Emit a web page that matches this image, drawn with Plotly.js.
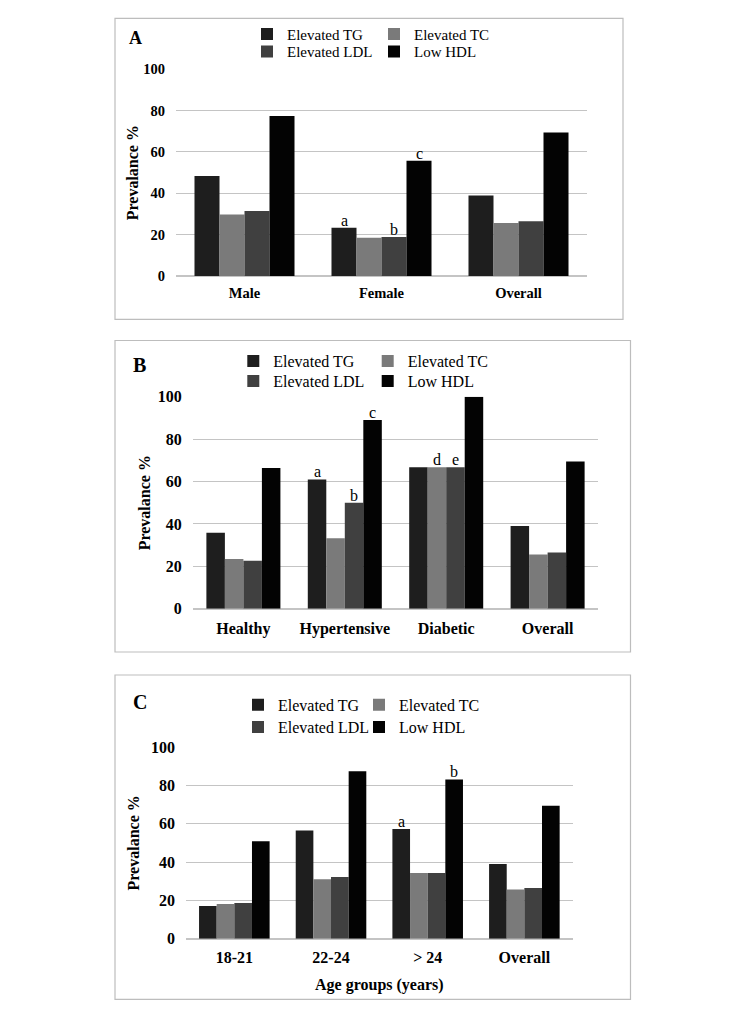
<!DOCTYPE html>
<html>
<head>
<meta charset="utf-8">
<script src="https://cdn.plot.ly/plotly-3.0.1.min.js"></script>
<style>html,body{margin:0;padding:0;background:#fff;}#chart{width:744px;height:1015px;}</style>
</head>
<body>
<div id="chart"></div>
<script>
// ---- data ----
const seriesNames = ['Elevated TG', 'Elevated TC', 'Elevated LDL', 'Low HDL'];
const seriesColors = ['#1e1e1e', '#7a7a7a', '#404040', '#030303'];

// Panel A: by sex
const catsA = ['Male', 'Female', 'Overall'];
const tgA  = [48.4, 23.4, 39.0];
const tcA  = [29.8, 18.5, 25.6];
const ldlA = [31.5, 18.9, 26.5];
const hdlA = [77.4, 55.8, 69.4];
const letterCatA = ['Female', 'Female', 'Female'];
const letterSerA = [0, 2, 3];
const letterTxtA = ['a', 'b', 'c'];

// Panel B: by health status
const catsB = ['Healthy', 'Hypertensive', 'Diabetic', 'Overall'];
const tgB  = [35.8, 61.0, 66.7, 39.0];
const tcB  = [23.4, 33.2, 66.7, 25.6];
const ldlB = [22.6, 50.0, 66.7, 26.5];
const hdlB = [66.4, 89.0, 100, 69.4];
const letterCatB = ['Hypertensive', 'Hypertensive', 'Hypertensive', 'Diabetic', 'Diabetic'];
const letterSerB = [0, 2, 3, 1, 2];
const letterTxtB = ['a', 'b', 'c', 'd', 'e'];

// Panel C: by age group
const catsC = ['18-21', '22-24', '> 24', 'Overall'];
const tgC  = [17.0, 56.5, 57.2, 39.0];
const tcC  = [18.1, 31.0, 34.3, 25.6];
const ldlC = [18.6, 32.2, 34.3, 26.5];
const hdlC = [50.8, 87.3, 83.1, 69.4];
const letterCatC = ['> 24', '> 24'];
const letterSerC = [0, 3];
const letterTxtC = ['a', 'b'];

const yTickVals = [0, 20, 40, 60, 80, 100];
const yTitle = 'Prevalance %';
const xTitleC = 'Age groups (years)';
const panelLabels = ['A', 'B', 'C'];

// ---- layout helpers ----
const W = 744, H = 1015;
const px = v => v / W;
const py = v => 1 - v / H;
const SERIF = 'Liberation Serif, Times New Roman, serif';
const BARGAP = 0.27;

// legend item placement: text start x per column, center y per row
const panels = [
  {cats: catsA, vals: [tgA, tcA, ldlA, hdlA], lc: letterCatA, ls: letterSerA, lt: letterTxtA,
   xd: [176, 587], yd: [276, 69.3], box: [115, 18.3, 623, 319.3], fs: 14.5, lfs: 15,
   cols: [287, 414], rows: [33.3, 50.7], ytStand: 0, xtStand: 6, lab: {x: 135.5, y: 37.5, s: 18}},
  {cats: catsB, vals: [tgB, tcB, ldlB, hdlB], lc: letterCatB, ls: letterSerB, lt: letterTxtB,
   xd: [192.7, 598.3], yd: [608.7, 396.7], box: [115, 340.5, 630.5, 652], fs: 16, lfs: 16,
   cols: [273.3, 407.7], rows: [360.7, 380.7], ytStand: 3, xtStand: 8, lab: {x: 139, y: 365, s: 20}},
  {cats: catsC, vals: [tgC, tcC, ldlC, hdlC], lc: letterCatC, ls: letterSerC, lt: letterTxtC,
   xd: [186, 572.7], yd: [938.7, 747], box: [115, 675, 630.5, 999.3], fs: 16, lfs: 16,
   cols: [278, 399], rows: [704.3, 726.7], ytStand: 7, xtStand: 7, lab: {x: 140, y: 702, s: 20}}
];

const traces = [];
const annotations = [];
const shapes = [];
const layout = {
  width: W, height: H,
  margin: {l: 0, r: 0, t: 0, b: 0, autoexpand: false},
  paper_bgcolor: '#ffffff', plot_bgcolor: 'rgba(0,0,0,0)',
  barmode: 'group', bargap: BARGAP, bargroupgap: 0,
  showlegend: true,
  font: {family: SERIF, color: '#000'}
};

const legendKey = n => (n === 1 ? 'legend' : 'legend' + n);

panels.forEach((p, i) => {
  const sfx = i === 0 ? '' : String(i + 1);
  const xa = 'x' + sfx, ya = 'y' + sfx;
  p.vals.forEach((v, s) => {
    const key = legendKey(i * 4 + s + 1);
    const col = s % 2, row = s < 2 ? 0 : 1;
    traces.push({
      type: 'bar', x: p.cats, y: v, name: seriesNames[s],
      marker: {color: seriesColors[s], line: {width: 0}},
      xaxis: xa, yaxis: ya, legend: key, hoverinfo: 'x+y+name'
    });
    layout[key] = {
      orientation: 'h', x: px(p.cols[col] - 40), y: py(p.rows[row] - p.lfs - 0.5),
      xanchor: 'left', yanchor: 'top', xref: 'paper', yref: 'paper',
      bgcolor: 'rgba(0,0,0,0)', borderwidth: 0, itemwidth: 30,
      font: {family: SERIF, size: p.lfs, color: '#000'}, itemclick: false, itemdoubleclick: false
    };
  });
  layout['xaxis' + sfx] = {
    domain: [px(p.xd[0]), px(p.xd[1])], anchor: ya, type: 'category',
    showgrid: false, zeroline: false, showline: false, ticks: '',
    tickfont: {family: SERIF, size: p.fs, weight: 'bold', color: '#000'},
    ticklabelstandoff: p.xtStand, fixedrange: true,
    title: i === 2 ? {text: xTitleC, font: {family: SERIF, size: 16, weight: 'bold', color: '#000'}, standoff: 14} : {text: ''}
  };
  layout['yaxis' + sfx] = {
    domain: [py(p.yd[0]), py(p.yd[1])], anchor: xa, range: [0, 100],
    tickvals: yTickVals, showgrid: true, gridcolor: '#c4c4c4', gridwidth: 1,
    zeroline: true, zerolinecolor: '#c4c4c4', zerolinewidth: 1.5,
    showline: false, ticks: '', ticklabelstandoff: 10,
    tickfont: {family: SERIF, size: p.fs, weight: 'bold', color: '#000'},
    fixedrange: true,
    title: {text: yTitle, font: {family: SERIF, size: 16, weight: 'bold', color: '#000'}, standoff: p.ytStand}
  };
  // significance letters above bars
  const w = (1 - BARGAP) / 4;
  p.lt.forEach((t, k) => {
    const ci = p.cats.indexOf(p.lc[k]);
    const s = p.ls[k];
    annotations.push({
      xref: xa, yref: ya, x: ci + (s - 1.5) * w, y: p.vals[s][ci],
      text: t, showarrow: false, yanchor: 'bottom', xanchor: 'center', yshift: -3,
      font: {family: SERIF, size: 16, color: '#000'}
    });
  });
  // panel label
  annotations.push({
    xref: 'paper', yref: 'paper', x: px(p.lab.x), y: py(p.lab.y),
    text: '<b>' + panelLabels[i] + '</b>', showarrow: false, xanchor: 'center', yanchor: 'middle',
    font: {family: SERIF, size: p.lab.s, color: '#000'}
  });
  // panel frame
  shapes.push({
    type: 'rect', xref: 'paper', yref: 'paper', layer: 'below',
    x0: px(p.box[0]), x1: px(p.box[2]), y0: py(p.box[3]), y1: py(p.box[1]),
    line: {color: '#bdbdbd', width: 1.2}, fillcolor: 'rgba(0,0,0,0)'
  });
});

layout.annotations = annotations;
layout.shapes = shapes;

Plotly.newPlot('chart', traces, layout, {displayModeBar: false});
</script>
</body>
</html>
